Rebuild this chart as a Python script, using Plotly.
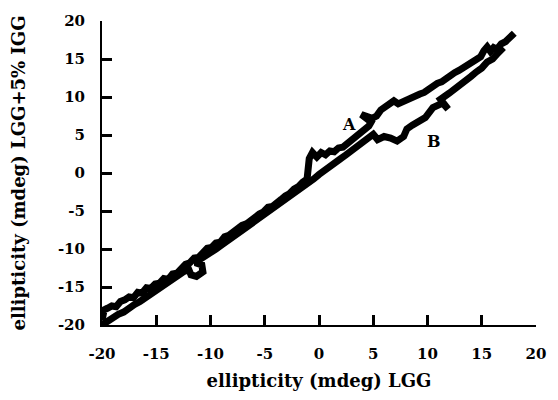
import plotly.graph_objects as go

# Curve A (upper trace)
a_x = [-20, -19.8, -19.5, -19.1, -18.7, -18.3, -17.9, -17.5, -17.1, -16.7, -16.3, -15.9,
       -15.5, -15.1, -14.7, -14.3, -13.9, -13.5, -13.1, -12.7, -12.3, -11.9, -11.5, -11.1,
       -10.7, -10.3, -9.9, -9.5, -9.1, -8.7, -8.3, -7.9, -7.5, -7.1, -6.7, -6.3, -5.9,
       -5.5, -5.1, -4.7, -4.3, -3.9, -3.5, -3.1, -2.7, -2.3, -1.9, -1.5, -1.1, -0.9,
       -0.6, -0.2, 0.2, 0.6, 1.0, 1.4, 1.8, 2.2, 2.6, 3.0, 3.4, 3.8, 4.2, 4.6, 4.8,
       3.9, 4.9, 5.3, 5.7, 6.1, 6.5, 6.9, 7.3, 7.7, 8.1, 8.5, 8.9, 9.3, 9.7, 10.1,
       10.5, 10.9, 11.3, 11.7, 12.1, 12.5, 12.9, 13.3, 13.7, 14.1, 14.5, 14.9, 15.2,
       15.5, 15.8, 16.1, 16.4, 16.8, 17.2, 17.6, 18.0]
a_y = [-19.4, -18.0, -17.8, -17.5, -17.6, -16.9, -16.7, -16.3, -16.4, -15.7, -15.8, -15.1,
       -15.2, -14.6, -14.5, -13.9, -14.0, -13.3, -13.2, -12.6, -12.0, -11.8, -11.2, -11.1,
       -10.5, -9.9, -9.8, -9.2, -9.1, -8.4, -8.2, -7.7, -7.5, -6.9, -6.7, -6.2, -5.9,
       -5.4, -5.1, -4.5, -4.4, -3.8, -3.5, -3.0, -2.7, -2.1, -1.8, -1.2, -0.8, 1.9,
       2.7, 2.1, 2.7, 2.4, 2.9, 2.8, 3.3, 3.4, 3.9, 4.1, 4.7, 5.1, 5.6, 6.2, 6.7,
       7.7, 7.2, 7.5, 8.3, 8.8, 9.3, 9.5, 9.1, 9.4, 9.6, 10.0, 10.1, 10.4, 10.6, 11.1,
       11.3, 11.8, 12.0, 12.5, 12.7, 13.2, 13.5, 13.9, 14.1, 14.5, 14.9, 15.3, 16.1,
       16.6, 16.0, 16.5, 16.3, 17.0, 17.3, 17.8, 18.4]

# Curve B (lower trace)
b_x = [-20, -19.5, -19.0, -18.5, -18.0, -17.5, -17.0, -16.5, -16.0, -15.5, -15.0, -14.5,
       -14.0, -13.5, -13.0, -12.5, -12.0, -11.8, -11.3, -10.7, -10.8, -11.4, -11.0,
       -10.5, -10.0, -9.5, -9.0, -8.5, -8.0, -7.5, -7.0, -6.5, -6.0, -5.5, -5.0, -4.5,
       -4.0, -3.5, -3.0, -2.5, -2.0, -1.5, -1.0, -0.5, 0.0, 0.5, 1.0, 1.5, 2.0, 2.5,
       3.0, 3.5, 4.0, 4.5, 5.0, 5.4, 6.0, 6.6, 7.2, 7.8, 8.1, 8.6, 9.2, 9.8, 10.5,
       11.4, 11.9, 11.2, 12.0, 12.5, 13.0, 13.5, 14.0, 14.5, 15.0, 15.5, 16.0, 16.5,
       17.0]
b_y = [-20.0, -19.5, -19.1, -18.6, -18.3, -17.7, -17.3, -16.9, -16.4, -15.9, -15.4, -14.9,
       -14.5, -13.9, -13.5, -13.0, -12.7, -13.4, -13.6, -13.0, -12.1, -11.8, -11.4,
       -11.0, -10.5, -10.0, -9.5, -9.0, -8.5, -8.0, -7.5, -7.0, -6.5, -6.0, -5.5, -5.0,
       -4.5, -4.0, -3.5, -3.0, -2.5, -2.0, -1.4, -0.8, -0.2, 0.4, 0.9, 1.4, 1.9, 2.4,
       2.9, 3.4, 3.9, 4.5, 5.1, 4.4, 4.8, 4.6, 4.2, 4.8, 5.8, 6.3, 6.8, 7.3, 8.6,
       9.2, 8.4, 9.7, 10.5, 11.0, 11.6, 12.1, 12.7, 13.3, 13.8, 14.6, 15.0, 15.8,
       16.5]

x_ticks = [-20, -15, -10, -5, 0, 5, 10, 15, 20]
y_ticks = [-20, -15, -10, -5, 0, 5, 10, 15, 20]

fig = go.Figure()
fig.add_trace(go.Scatter(x=a_x, y=a_y, mode="lines", name="A",
                         line=dict(color="black", width=7)))
fig.add_trace(go.Scatter(x=b_x, y=b_y, mode="lines", name="B",
                         line=dict(color="black", width=7)))

font_fam = "DejaVu Serif"
fig.add_annotation(x=2.8, y=6.4, text="<b>A</b>", showarrow=False,
                   font=dict(family=font_fam, size=16, color="black"))
fig.add_annotation(x=10.6, y=4.2, text="<b>B</b>", showarrow=False,
                   font=dict(family=font_fam, size=16, color="black"))

tick_font = dict(family=font_fam, size=15, color="black")

fig.update_layout(
    template="simple_white",
    width=558, height=400,
    margin=dict(l=102, r=16, t=17, b=72),
    paper_bgcolor="white", plot_bgcolor="white",
    showlegend=False,
)
fig.update_xaxes(range=[-20, 20], tickmode="array", tickvals=x_ticks,
                 ticktext=["<b>%d</b>" % v for v in x_ticks],
                 showgrid=False, zeroline=False, showline=True, linecolor="black",
                 linewidth=2, ticks="inside", ticklen=10, tickwidth=3, tickcolor="black",
                 tickfont=tick_font, ticklabelstandoff=14,
                 title=dict(text="<b>ellipticity (mdeg) LGG</b>", standoff=12,
                            font=dict(family=font_fam, size=18, color="black")))
fig.update_yaxes(range=[-20, 20], tickmode="array", tickvals=y_ticks,
                 ticktext=["<b>%d</b>" % v for v in y_ticks],
                 showgrid=False, zeroline=False, showline=True, linecolor="black",
                 linewidth=2, ticks="inside", ticklen=10, tickwidth=3, tickcolor="black",
                 tickfont=tick_font, ticklabelstandoff=12,
                 title=dict(text="<b>ellipticity (mdeg) LGG+5% IGG</b>", standoff=28,
                            font=dict(family=font_fam, size=18, color="black")))

fig.write_html("out.html")
